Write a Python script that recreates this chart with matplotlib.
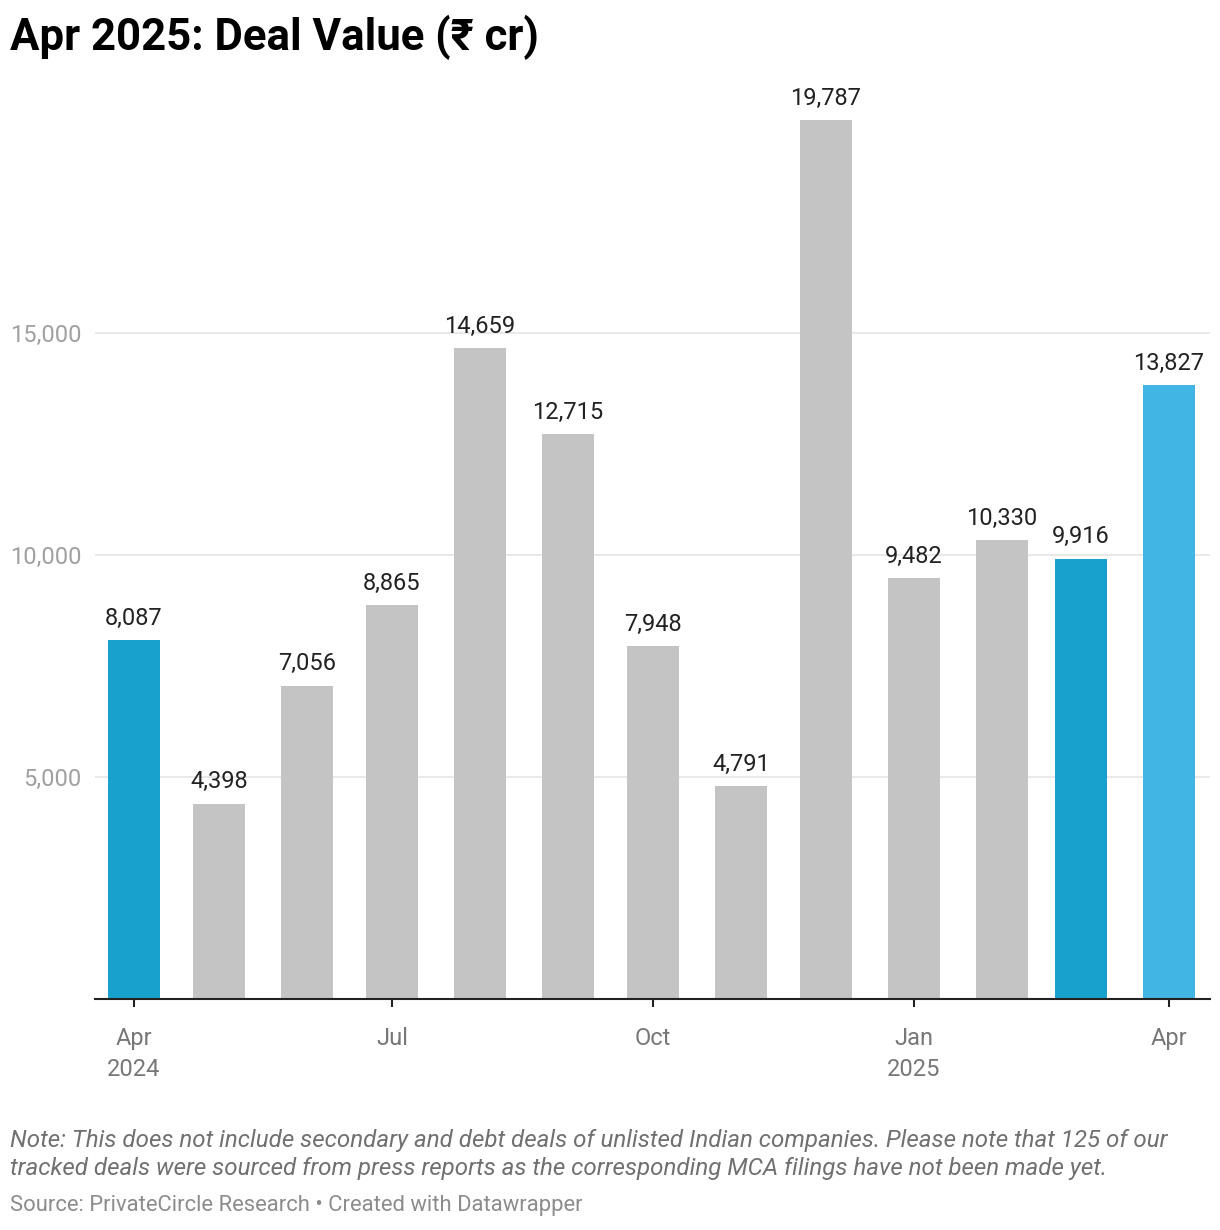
import datetime as dt
import matplotlib
matplotlib.use('Agg')
import matplotlib.pyplot as plt
import matplotlib.dates as mdates
from matplotlib.ticker import FuncFormatter

plt.rcParams['font.family'] = ['Roboto', 'DejaVu Sans']

# monthly deal value, Apr 2024 - Apr 2025
months = ['2024-04', '2024-05', '2024-06', '2024-07', '2024-08', '2024-09', '2024-10',
          '2024-11', '2024-12', '2025-01', '2025-02', '2025-03', '2025-04']
values = [8087, 4398, 7056, 8865, 14659, 12715, 7948, 4791, 19787, 9482, 10330, 9916, 13827]
bar_colors = ['#18a1cd', '#c4c4c4', '#c4c4c4', '#c4c4c4', '#c4c4c4', '#c4c4c4', '#c4c4c4',
              '#c4c4c4', '#c4c4c4', '#c4c4c4', '#c4c4c4', '#18a1cd', '#41b6e4']
tick_months = ['2024-04', '2024-07', '2024-10', '2025-01', '2025-04']
tick_labels = ['Apr\n2024', 'Jul', 'Oct', 'Jan\n2025', 'Apr']
yticks = [5000, 10000, 15000]

dates = [dt.datetime.strptime(m, '%Y-%m') for m in months]
xnum = mdates.date2num(dates)

W, H = 1220, 1230
fig = plt.figure(figsize=(W / 100, H / 100), dpi=100)
ax = fig.add_axes([95 / W, (H - 999) / H, (1210 - 95) / W, (999 - 80) / H])

ax.bar(xnum, values, width=18.3, color=bar_colors, zorder=2)

for x, v in zip(xnum, values):
    ax.annotate('{:,}'.format(v), (x, v), xytext=(0, 11), textcoords='offset points',
                ha='center', va='baseline', fontsize=17, color='#222222')

x0 = mdates.date2num(dt.datetime(2024, 4, 1))
x1 = mdates.date2num(dt.datetime(2025, 4, 1))
ax.set_xlim(x0 - 13.75, x1 + 14.46)
ax.set_ylim(0, (999 - 80) * 5000 / 222)

ax.set_yticks(yticks)
ax.yaxis.set_major_formatter(FuncFormatter(lambda v, p: '{:,.0f}'.format(v)))
ax.tick_params(axis='y', length=0, pad=9.5, labelsize=17, labelcolor='#a0a0a0')
ax.grid(axis='y', color='#e3e3e3', linewidth=1.1, zorder=0)

ax.set_xticks(mdates.date2num([dt.datetime.strptime(m, '%Y-%m') for m in tick_months]))
ax.set_xticklabels(tick_labels, linespacing=1.45)
ax.tick_params(axis='x', length=6, width=1.5, color='#222222', pad=14,
               labelsize=17, labelcolor='#777777')

for s in ['top', 'right', 'left']:
    ax.spines[s].set_visible(False)
ax.spines['bottom'].set_color('#222222')
ax.spines['bottom'].set_linewidth(1.5)
ax.spines['bottom'].set_zorder(3)

fig.text(10 / W, 1 - 50 / H, 'Apr 2025: Deal Value (₹ cr)', fontsize=31.5, fontweight='bold',
         color='#000000', va='baseline', ha='left')

note1 = 'Note: This does not include secondary and debt deals of unlisted Indian companies. Please note that 125 of our'
note2 = 'tracked deals were sourced from press reports as the corresponding MCA filings have not been made yet.'
fig.text(10 / W, 1 - 1147 / H, note1, fontsize=17.4, style='italic',
         color='#707070', va='baseline', ha='left')
fig.text(10 / W, 1 - 1175 / H, note2, fontsize=17.4, style='italic',
         color='#707070', va='baseline', ha='left')
fig.text(10 / W, 1 - 1211 / H, 'Source: PrivateCircle Research • Created with Datawrapper',
         fontsize=15.8, color='#8c8c8c', va='baseline', ha='left')

fig.savefig('out.png', dpi=100)
